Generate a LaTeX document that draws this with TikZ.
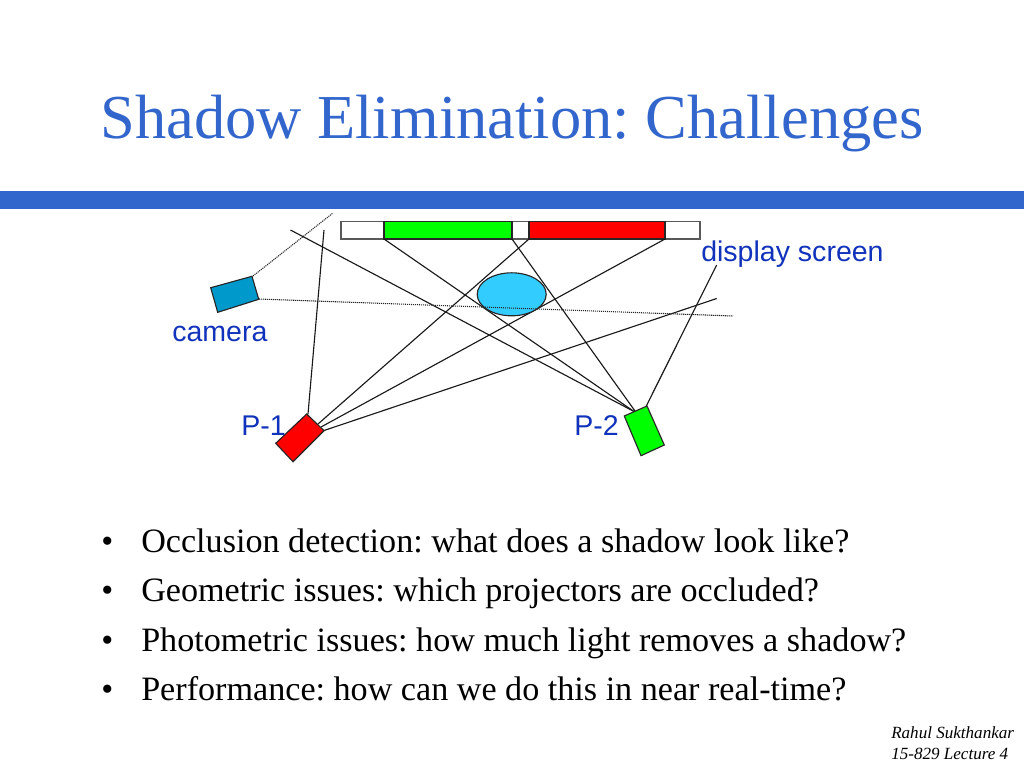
\documentclass[tikz,border=0pt]{standalone}
\usepackage{fontspec}
\setmainfont{Liberation Serif}
\newfontfamily\labelfont{Liberation Sans}
\definecolor{titleblue}{HTML}{3366CC}
\definecolor{labelblue}{HTML}{1133BB}
\definecolor{barblue}{HTML}{3366CC}
\definecolor{camblue}{HTML}{0099CC}
\definecolor{blobblue}{HTML}{33CCFF}
\definecolor{scrgreen}{HTML}{00FF00}
\tikzset{
  ray/.style={draw=black!90,line width=0.85pt},
  sight/.style={draw=black!85,line width=0.8pt,dash pattern=on 0.8pt off 0.7pt},
  box/.style={draw=black!85,line width=0.85pt},
  lbl/.style={inner sep=0pt,anchor=base west,text=labelblue,font=\labelfont\fontsize{21.4}{26}\selectfont},
  bullettext/.style={inner sep=0pt,anchor=base west,font=\fontsize{25.6}{30}\selectfont},
  sig/.style={inner sep=0pt,anchor=base west,font=\itshape\fontsize{12.8}{15}\selectfont}
}
\begin{document}
\frenchspacing
\begin{tikzpicture}[x=0.75pt,y=-0.75pt]
\useasboundingbox (0,0) rectangle (1024,768);
\fill[white] (0,0) rectangle (1024,768);
\node[inner sep=0pt,anchor=base west,text=titleblue,font=\fontsize{46.9}{52}\selectfont] (title) at (100,138) {Shadow Elimination: Challenges};
\fill[barblue] (0,191) rectangle (1024,209);
% screen
\draw[box,draw=black!65,fill=white] (341,221.5) rectangle (700,239);
\draw[box,fill=scrgreen] (384,221.5) rectangle (512,239);
\draw[box,fill=red] (529,221.5) rectangle (665,239);
\coordinate (gl) at (384,239);
\coordinate (gr) at (512,239);
\coordinate (rl) at (529,239);
\coordinate (rr) at (665,239);
% projectors
\coordinate (p1a) at (308,414);
\coordinate (p1b) at (318,424);
\coordinate (p1c) at (321,427);
\coordinate (p1d) at (324,430.5);
\coordinate (p2a) at (634,411.5);
\coordinate (p2b) at (635,411);
\coordinate (p2c) at (646,406.5);
\coordinate (e1) at (324,230);
\coordinate (e2) at (716.7,298.5);
\coordinate (e3) at (290.5,230);
\coordinate (e4) at (716.7,265);
\draw[ray] (p1a) -- (e1);
\draw[ray] (p1b) -- (rl);
\draw[ray] (p1c) -- (rr);
\draw[ray] (p1d) -- (e2);
\draw[ray] (p2a) -- (e3);
\draw[ray] (p2a) -- (gl);
\draw[ray] (p2b) -- (gr);
\draw[ray] (p2c) -- (e4);
% blob
\draw[box,fill=blobblue] (511.7,294.3) ellipse [x radius=34.5,y radius=21.5];
% camera
\draw[box,fill=camblue] (210.7,287.7) -- (252,276.3) -- (258.7,299.3) -- (217.7,312.3) -- cycle;
\coordinate (c1) at (253,276);
\coordinate (c2) at (259,299);
\coordinate (c3) at (333,213);
\coordinate (c4) at (733,316);
\draw[sight] (c1) -- (c3);
\draw[sight] (c2) -- (c4);
\draw[box,fill=red] (306.7,414) -- (324,430.7) -- (293,461.7) -- (275.7,443.3) -- cycle;
\draw[box,fill=scrgreen] (624.3,416) -- (647,406) -- (664.3,445) -- (641,455.7) -- cycle;
% labels
\node[lbl] (ds) at (701,261) {display screen};
\node[lbl] (cam) at (172,341) {camera};
\node[lbl] (pa) at (241,435) {P-1};
\node[lbl] (pb) at (574,435) {P-2};
% bullets
\node[bullettext] (b1) at (101,552) {•};
\node[bullettext] (t1) at (141,552) {Occlusion detection: what does a shadow look like?};
\node[bullettext] (b2) at (101,601.5) {•};
\node[bullettext] (t2) at (141,601.5) {Geometric issues: which projectors are occluded?};
\node[bullettext] (b3) at (101,651) {•};
\node[bullettext] (t3) at (141,651) {Photometric issues: how much light removes a shadow?};
\node[bullettext] (b4) at (101,700) {•};
\node[bullettext] (t4) at (141,700) {Performance: how can we do this in near real-time?};
% signature
\node[sig] (s1) at (891,738) {Rahul Sukthankar};
\node[sig] (s2) at (891,759) {15-829 Lecture 4};
\end{tikzpicture}
\end{document}
